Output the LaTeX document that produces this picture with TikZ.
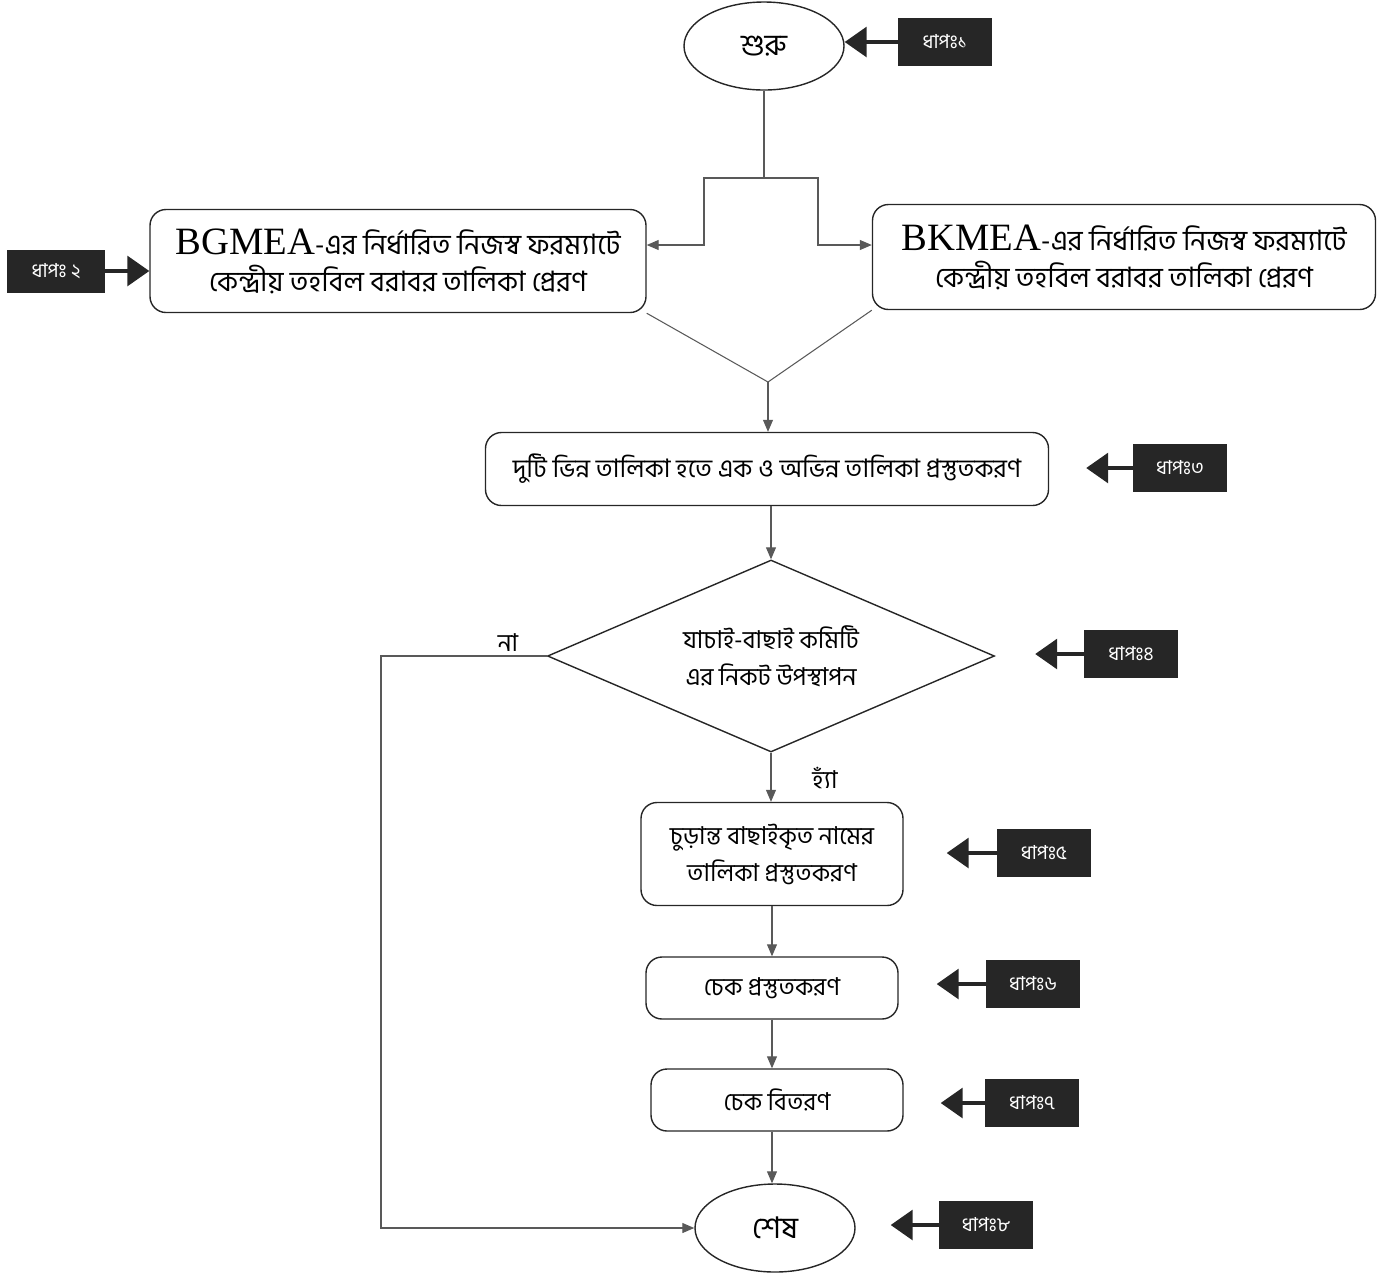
\documentclass[tikz,border=0pt]{standalone}
\usepackage{fontspec}
\setmainfont{Liberation Serif}
\newfontfamily\bn[Script=Bengali]{Hind Siliguri}
\usetikzlibrary{shapes.geometric,arrows.meta}

\begin{document}
\begin{tikzpicture}[x=0.2mm,y=-0.2mm,
  box/.style={draw=black!85,thick,rounded corners=3.2mm,align=center,inner sep=0pt,font=\bn\fontsize{16}{21}\selectfont},
  term/.style={draw=black!85,thick,ellipse,inner sep=0pt,font=\bn\fontsize{17}{20}\selectfont},
  ask/.style={draw=black!85,thick,diamond,aspect=2.33,align=center,inner sep=0pt,font=\bn\fontsize{14}{21}\selectfont},
  stepbox/.style={fill=black!85,text=white,minimum width=18.8mm,minimum height=9.6mm,inner sep=0pt,font=\bn\fontsize{11}{12}\selectfont},
  steptip/.style={black!85,line width=1.8pt,-{Triangle[length=4.4mm,width=6mm]}},
  line/.style={black!65,line width=0.6pt},
  flow/.style={line,-{Triangle[length=2.4mm,width=2mm]}}]

\useasboundingbox (0,0) rectangle (1387,1274);

% Start and end
\node[term,minimum width=32mm,minimum height=17.6mm] (start) at (764,46) {শুরু};
\node[term,minimum width=32mm,minimum height=17.6mm] (finish) at (775,1228) {শেষ};

% The two lists
\node[box,minimum width=99.2mm,minimum height=20.6mm] (bgmea) at (398,261) {{\rmfamily\fontsize{22}{22}\selectfont BGMEA}-এর নির্ধারিত নিজস্ব ফরম্যাটে\\কেন্দ্রীয় তহবিল বরাবর তালিকা প্রেরণ};
\node[box,minimum width=100.6mm,minimum height=21mm] (bkmea) at (1124,257) {{\rmfamily\fontsize{22}{22}\selectfont BKMEA}-এর নির্ধারিত নিজস্ব ফরম্যাটে\\কেন্দ্রীয় তহবিল বরাবর তালিকা প্রেরণ};

% One list, then the committee
\node[box,minimum width=112.6mm,minimum height=14.6mm,font=\bn\fontsize{14.5}{21}\selectfont] (merge) at (767,469) {দুটি ভিন্ন তালিকা হতে এক ও অভিন্ন তালিকা প্রস্তুতকরণ};
\node[ask,minimum width=89.4mm,minimum height=38.4mm] (check) at (771,656) {যাচাই-বাছাই কমিটি\\এর নিকট উপস্থাপন};

% Final list and cheques
\node[box,minimum width=52.4mm,minimum height=20.6mm,font=\bn\fontsize{14}{21}\selectfont] (final) at (772,854) {চুড়ান্ত বাছাইকৃত নামের\\তালিকা প্রস্তুতকরণ};
\node[box,minimum width=50.4mm,minimum height=12.4mm,font=\bn\fontsize{14}{21}\selectfont] (cheque) at (772,988) {চেক প্রস্তুতকরণ};
\node[box,minimum width=50.4mm,minimum height=12.4mm,font=\bn\fontsize{14}{21}\selectfont] (deliver) at (777,1100) {চেক বিতরণ};

% Step labels
\node[stepbox] (s1) at (945,42) {ধাপঃ১};
\node[stepbox,minimum width=19.4mm,minimum height=8.6mm] (s2) at (56,271) {ধাপঃ ২};
\node[stepbox] (s3) at (1180,468) {ধাপঃ৩};
\node[stepbox] (s4) at (1131,654) {ধাপঃ৪};
\node[stepbox] (s5) at (1044,853) {ধাপঃ৫};
\node[stepbox] (s6) at (1033,984) {ধাপঃ৬};
\node[stepbox] (s7) at (1032,1103) {ধাপঃ৭};
\node[stepbox] (s8) at (986,1225) {ধাপঃ৮};

\draw[steptip] (s1.west) -- (s1.west -| start.east);
\draw[steptip] (s2.east) -- (s2.east -| bgmea.west);
\draw[steptip,shorten >=7.4mm] (s3.west) -- (s3.west -| merge.east);
\draw[steptip,shorten >=8mm] (s4.west) -- (s4.west -| check.east);
\draw[steptip,shorten >=8.6mm] (s5.west) -- (s5.west -| final.east);
\draw[steptip,shorten >=7.6mm] (s6.west) -- (s6.west -| cheque.east);
\draw[steptip,shorten >=7.4mm] (s7.west) -- (s7.west -| deliver.east);
\draw[steptip,shorten >=7mm] (s8.west) -- (s8.west -| finish.east);

% Split from start
\coordinate (split) at (764,178);
\coordinate (lturn) at (704,245);
\coordinate (rturn) at (818,245);
\draw[flow] (start.south) -- (split) -| (lturn) -- (bgmea.east |- lturn);
\draw[flow] (split) -| (rturn) -- (bkmea.west |- rturn);

% Join into one list
\coordinate (join) at (768,382);
\draw[line] (bgmea.south east) -- (join) -- (bkmea.south west);
\draw[flow] (join) -- (merge.north -| join);
\draw[flow] (merge.south -| check.north) -- (check.north);

% No branch
\coordinate (nodown) at (381,656);
\coordinate (noend) at (381,1228);
\draw[flow] (check.west) -- (nodown) -- (noend) -- (finish.west);
\node[font=\bn\fontsize{14}{15}\selectfont] (no) at (508,643) {না};

% Yes branch
\draw[flow] (check.south) -- (final.north -| check.south);
\node[font=\bn\fontsize{14}{15}\selectfont] (yes) at (825,778) {হ্যাঁ};
\draw[flow] (final.south) -- (cheque.north);
\draw[flow] (cheque.south) -- (deliver.north -| cheque.south);
\draw[flow] (deliver.south -| cheque.south) -- (finish.north -| cheque.south);

\end{tikzpicture}
\end{document}
